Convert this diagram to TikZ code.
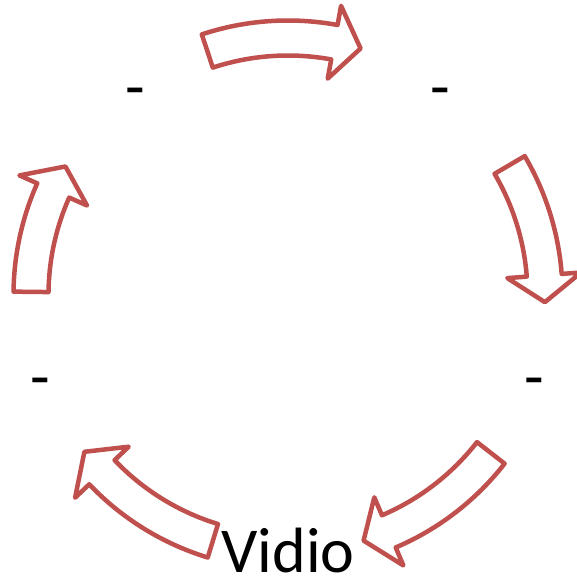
\documentclass[tikz,border=0pt]{standalone}
\usepackage{fontspec}
\setmainfont{Carlito}
\definecolor{arrowred}{HTML}{C0504D}
\newcommand{\cycarrow}[2]{%
  \pgfmathsetmacro{\hA}{#2-sign(#2-#1)*6}%
  \draw[cyclearrow] (#1:274.5) arc[start angle=#1, end angle=\hA, radius=274.5pt]
    -- (\hA:294) -- (#2:257) -- (\hA:220) -- (\hA:239.5)
    arc[start angle=\hA, end angle=#1, radius=239.5pt] -- cycle;%
}
\begin{document}
\begin{tikzpicture}[x=1pt,y=1pt,
  cyclearrow/.style={draw=arrowred, line width=4.5pt, fill=white, line join=round},
  lbl/.style={inner sep=0pt, anchor=base, font=\fontsize{64}{70}\selectfont, text=black}]
\useasboundingbox[fill=white] (0,0) rectangle (576,580);
\coordinate (C) at (288,285);
\begin{scope}[shift={(C)}]
  \cycarrow{108.3}{73.6}
  \cycarrow{30.4}{-1.6}
  \cycarrow{-37.9}{-72.9}
  \cycarrow{-107}{-142.4}
  \cycarrow{179.3}{150}
\end{scope}
\node[lbl] (n1) at (135,471) {-};
\node[lbl] (n2) at (440,471) {-};
\node[lbl] (n3) at (534.5,181.5) {-};
\node[lbl] (n4) at (288,8) {Vidio};
\node[lbl] (n5) at (40,181.5) {-};
\end{tikzpicture}
\end{document}
